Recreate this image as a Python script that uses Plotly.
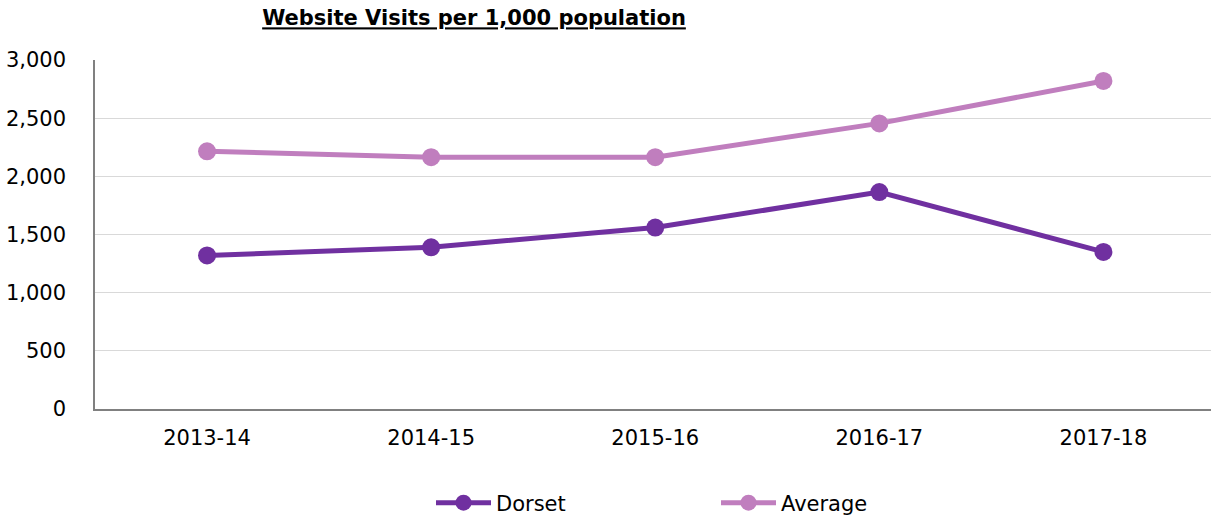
import plotly.graph_objects as go

categories = ["2013-14", "2014-15", "2015-16", "2016-17", "2017-18"]
dorset = [1320, 1390, 1560, 1865, 1350]
average = [2215, 2165, 2165, 2455, 2820]

font_family = "DejaVu Sans, Verdana, sans-serif"

fig = go.Figure()
fig.add_trace(go.Scatter(x=categories, y=dorset, name="Dorset", mode="lines+markers",
                         line=dict(color="#7030A0", width=5),
                         marker=dict(color="#7030A0", size=18)))
fig.add_trace(go.Scatter(x=categories, y=average, name="Average", mode="lines+markers",
                         line=dict(color="#C07EBE", width=5),
                         marker=dict(color="#C07EBE", size=18)))

fig.update_layout(
    width=1211, height=518,
    margin=dict(l=95, r=0, t=60, b=109, autoexpand=False),
    paper_bgcolor="white", plot_bgcolor="white",
    font=dict(family=font_family, size=21, color="#000000"),
    title=dict(text="<b><u>Website Visits per 1,000 population</u></b>",
               x=474 / 1211, xanchor="center", y=1 - 18 / 518, yanchor="middle",
               font=dict(family=font_family, size=21, color="#000000")),
    xaxis=dict(type="category", range=[-0.5, 4.48], showgrid=False, automargin=False,
               showline=True, linecolor="#808080", linewidth=1.5,
               ticks="", ticklabelstandoff=9, tickfont=dict(size=21)),
    yaxis=dict(range=[0, 3000], dtick=500, tickformat=",", showgrid=True, automargin=False,
               gridcolor="#D9D9D9", gridwidth=1, showline=True, linecolor="#808080",
               linewidth=1.5, ticks="", ticklabelstandoff=23, zeroline=False,
               tickfont=dict(size=21)),
    legend=dict(orientation="h", xref="container", x=431 / 1211, xanchor="left",
                y=(409 - 503) / 349, yanchor="middle",
                entrywidth=215, entrywidthmode="pixels", font=dict(size=21),
                itemwidth=55),
    showlegend=True,
)

fig.write_html("out.html", config={"displayModeBar": False},
               post_script="document.body.style.margin='0';document.body.style.overflow='hidden';")
